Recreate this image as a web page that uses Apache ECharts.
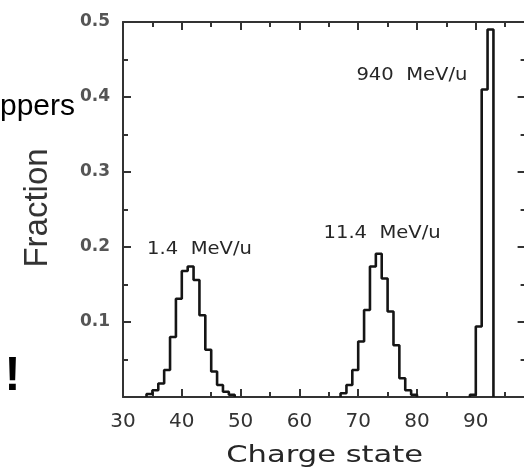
<!DOCTYPE html>
<html><head><meta charset="utf-8">
<script src="https://cdn.jsdelivr.net/npm/echarts@6/dist/echarts.min.js"></script>
<style>html,body{margin:0;padding:0;background:#fff}#c{width:524px;height:472px}</style>
</head><body><div id="c"></div>
<script>
// Tick labels
const xTicks = [30, 40, 50, 60, 70, 80, 90];
const yTicks = [0.1, 0.2, 0.3, 0.4, 0.5];
// Charge-state distributions (left edge of each charge-state bin, fraction)
const charge14 = [34, 35, 36, 37, 38, 39, 40, 41, 42, 43, 44, 45, 46, 47, 48];
const frac14 = [0.004, 0.009, 0.018, 0.036, 0.080, 0.131, 0.168, 0.174, 0.156, 0.109, 0.063, 0.034, 0.016, 0.007, 0.003];
const charge114 = [67, 68, 69, 70, 71, 72, 73, 74, 75, 76, 77, 78, 79];
const frac114 = [0.005, 0.016, 0.036, 0.074, 0.116, 0.174, 0.191, 0.158, 0.114, 0.069, 0.025, 0.009, 0.003];
const charge940 = [89, 90, 91, 92];
const frac940 = [0.003, 0.094, 0.41, 0.49];
// Annotations
const annoText = ['1.4  MeV/u', '11.4  MeV/u', '940  MeV/u'];
const annoCharge = [34.1, 64.1, 69.7];
const annoFrac = [0.197, 0.218, 0.429];
const xName = 'Charge state';
const yName = 'Fraction';

function hist(ch, fr) {
  const pts = [[ch[0], 0]];
  ch.forEach((c, i) => pts.push([c, fr[i]]));
  pts.push([ch[ch.length - 1] + 1, 0]);
  return pts;
}

const chart = echarts.init(document.getElementById('c'), null, {renderer: 'canvas'});
const axisCol = '#333';
const lineStyle = {color: '#151515', width: 2.6};
function xAx(pos, showLabel) {
  return {
    type: 'value', position: pos, min: 30, max: 100, interval: 10,
    axisLine: {show: true, onZero: false, lineStyle: {color: axisCol, width: 2}},
    axisTick: {show: true, inside: true, length: 8, lineStyle: {color: axisCol, width: 2}},
    minorTick: {show: true, splitNumber: 2, length: 5, lineStyle: {color: axisCol, width: 2}},
    splitLine: {show: false}, minorSplitLine: {show: false},
    axisLabel: {show: showLabel, margin: 15, color: '#333', fontFamily: 'DejaVu Sans', fontSize: 20,
      formatter: v => xTicks.indexOf(Math.round(v)) >= 0 ? String(Math.round(v)) : ''}
  };
}
function yAx(pos, showLabel, len) {
  return {
    type: 'value', position: pos, min: 0, max: 0.5, interval: 0.1,
    axisLine: {show: true, onZero: false, lineStyle: {color: axisCol, width: 2}},
    axisTick: {show: true, inside: true, length: len, lineStyle: {color: axisCol, width: 2}},
    minorTick: {show: true, splitNumber: 2, length: len - 3, lineStyle: {color: axisCol, width: 2}},
    splitLine: {show: false}, minorSplitLine: {show: false},
    axisLabel: {show: showLabel, margin: 13, color: '#555', fontFamily: 'DejaVu Sans', fontWeight: 'bold', fontSize: 17,
      formatter: v => {
        const t = yTicks.find(k => Math.abs(k - v) < 1e-6);
        return t === undefined ? '' : t.toFixed(1);
      }}
  };
}

chart.setOption({
  animation: false,
  backgroundColor: '#fff',
  grid: {left: 123, top: 22, bottom: 75, right: -10.6, containLabel: false, outerBoundsMode: 'none'},
  xAxis: [xAx('bottom', true), xAx('top', false)],
  yAxis: [yAx('left', true, 8), yAx('right', false, 17)],
  series: [
    {type: 'line', step: 'end', showSymbol: false, symbol: 'none', data: hist(charge14, frac14), lineStyle: lineStyle},
    {type: 'line', step: 'end', showSymbol: false, symbol: 'none', data: hist(charge114, frac114), lineStyle: lineStyle},
    {type: 'line', step: 'end', showSymbol: false, symbol: 'none', data: hist(charge940, frac940), lineStyle: lineStyle}
  ]
});

const g = [];
annoText.forEach((t, i) => {
  const p = chart.convertToPixel({gridIndex: 0}, [annoCharge[i], annoFrac[i]]);
  g.push({type: 'text', x: p[0], y: p[1], scaleX: 1.15, originX: 0, style: {text: t, fill: '#262626', font: '17px "DejaVu Sans"', textAlign: 'left', textVerticalAlign: 'middle'}});
});
const pb = chart.convertToPixel({gridIndex: 0}, [30, 0]);
const pc = chart.convertToPixel({gridIndex: 0}, [64.3, 0]);
g.push({type: 'text', x: pc[0], y: pb[1] + 59, scaleX: 1.33, originX: 0, style: {text: xName, fill: '#262626', font: '23px "DejaVu Sans"', textAlign: 'center', textVerticalAlign: 'middle'}});
g.push({type: 'text', x: 38, y: 208, rotation: Math.PI / 2, style: {text: yName, fill: '#333', font: '33px "Liberation Sans"', textAlign: 'center', textVerticalAlign: 'middle'}});
g.push({type: 'text', x: 75, y: 107, style: {text: 'ppers', fill: '#000', font: '30px "Liberation Sans"', textAlign: 'right', textVerticalAlign: 'middle'}});
g.push({type: 'text', x: 12.5, y: 377, style: {text: '!', fill: '#000', font: 'bold 48px "Liberation Sans"', textAlign: 'center', textVerticalAlign: 'middle'}});
chart.setOption({graphic: g});
</script></body></html>
